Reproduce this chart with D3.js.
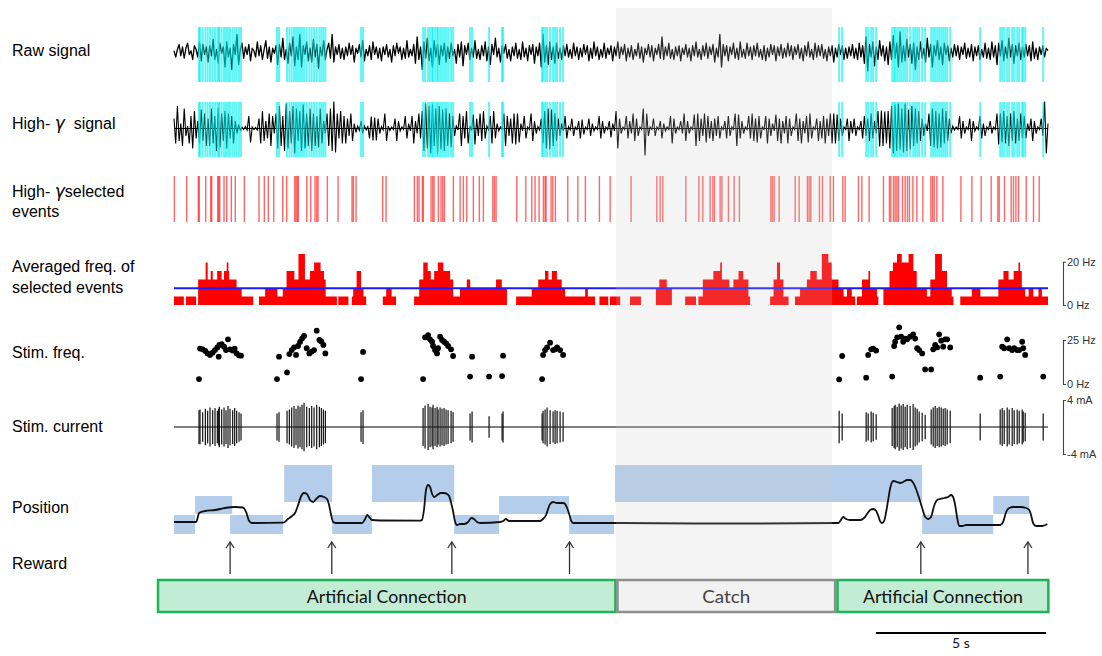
<!DOCTYPE html>
<html><head><meta charset="utf-8">
<script src="https://cdn.jsdelivr.net/npm/d3@7"></script>
<style>body{margin:0;background:#fff}svg{display:block}</style>
</head><body>
<svg id="chart" width="1102" height="656"></svg>
<script>
// ---- recording data (time in s) ----
const sampleStep = 0.05; // s between samples of the two voltage traces
const timeSpan = [0, 25.7];

// raw LFP trace (µV), one row per second
const rawSignal = [
5,-20,10,30,-15,20,-25,15,35,-10,5,-30,25,10,-20,40,-35,30,-10,20,
-40,25,-15,50,-30,10,-45,35,-5,20,-60,40,-20,15,-70,30,-10,70,-50,10,
35,-25,20,-10,30,-35,15,5,-20,40,-15,25,-30,10,45,-25,20,-40,15,-5,
25,-50,30,-20,55,-30,10,-45,35,-15,60,-55,20,-30,70,-60,25,-10,40,-35,
15,-40,50,-20,30,-65,20,-15,45,-30,10,35,-25,70,-40,20,-10,30,-25,15,
-30,20,-15,35,-10,25,-40,15,-5,30,-20,45,-35,10,-15,25,-30,40,-10,20,
-25,15,-35,20,-10,30,-20,10,-40,25,-15,35,-5,20,-30,15,-25,45,-20,10,
-15,30,-45,60,-30,20,-70,40,-25,55,-35,15,-60,45,-20,30,-50,25,-15,35,
-40,20,-25,35,-15,10,-45,30,-20,40,-55,25,-10,35,-30,15,-20,45,-25,10,
-30,25,-15,40,-35,20,-50,30,-10,55,-20,15,-40,25,-5,30,-25,10,-35,20,
-15,35,-25,10,-30,40,-20,15,-35,25,-10,30,-45,20,-15,35,-60,70,-40,25,
-50,40,-30,20,-45,35,-25,15,-30,25,-15,30,-20,10,-25,35,-15,20,-30,15,
-20,30,-10,25,-35,15,-25,40,-15,20,-30,10,-20,35,-25,15,-10,25,-35,20,
-15,40,-25,20,-10,30,-35,15,-20,25,-30,10,-15,35,-25,20,-40,15,-10,30,
-20,25,-35,15,-10,30,-25,60,-30,20,-15,35,-25,10,-30,20,-15,25,-35,15,
-10,30,-20,15,-35,25,-15,40,-20,10,-30,25,-15,35,-25,20,-10,30,-40,15,
-20,70,-60,30,-15,25,-35,20,-10,35,-25,15,-30,40,-20,10,-25,35,-15,20,
-30,25,-15,35,-20,10,-30,25,-35,15,-20,30,-10,25,-35,20,-15,30,-25,15,
-20,35,-15,25,-30,20,-10,30,-25,15,-35,25,-15,40,-20,10,-30,35,-20,25,
-15,30,-25,10,-35,20,-15,25,-40,15,-20,30,-10,25,-30,15,-25,20,-15,30,
-25,15,-30,35,-20,25,-45,60,-75,30,-20,40,-55,20,-30,45,-15,25,-35,20,
-50,40,-30,65,-25,35,-60,80,-40,25,-35,50,-20,30,-45,35,-70,20,-30,40,
-25,15,-40,55,-20,30,-60,25,-15,45,-30,20,-50,35,-10,25,-35,15,-20,30,
-15,25,-30,20,-10,35,-25,15,-20,30,-35,20,-15,25,-30,10,-20,35,-25,15,
-30,40,-20,25,-50,35,-15,45,-35,20,-25,55,-20,30,-45,25,-15,35,-30,20,
-20,30,-15,25,-35,40,-25,15,-30,20,-10,25,-20,15,5
];

// high-gamma band-passed trace (µV)
const highGamma = [
20,-30,45,-25,10,-35,40,-15,5,-30,25,-40,35,-20,15,-30,38,-25,30,-35,
20,-35,40,-30,25,-45,42,-38,30,-25,35,-40,30,-20,25,-30,15,-10,8,-4,
3,-2,4,-3,25,-28,3,-2,2,-3,20,-30,35,-25,15,-20,30,-35,25,-10,
30,-40,45,-35,25,-45,50,-40,35,-30,45,-50,40,-25,35,-45,48,-40,30,-35,
40,-45,30,-35,25,-38,40,-30,15,-10,30,-35,40,-45,54,-48,30,-20,35,-30,
25,-30,20,-15,30,-25,10,-8,5,-4,15,-10,5,-3,4,-20,24,-24,22,-24,
20,-10,4,-3,30,-25,5,-4,3,-2,20,-25,15,-5,3,-2,25,-20,10,-5,
25,-30,15,-10,30,-20,35,-45,50,-40,45,-50,48,-35,40,-50,45,-42,38,-45,
40,-35,30,-38,25,-15,5,-3,30,-35,25,-20,35,-30,5,-4,28,-32,20,-15,
30,-25,35,-20,5,-3,25,-30,35,-20,10,-5,3,-2,30,-35,25,-15,20,-30,
30,-32,30,-28,10,-5,25,-20,3,-2,30,-25,15,-10,4,-3,20,-30,35,-40,
40,-42,38,-35,30,-25,20,-15,10,-5,25,-20,4,-3,20,-15,3,-2,15,-20,
18,-12,3,-2,20,-15,10,-5,3,-2,25,-20,15,-10,3,-2,15,-18,10,-5,
35,-40,20,-10,3,-2,25,-20,15,-10,30,-25,20,-15,3,-2,40,-54,30,-15,
3,-2,20,-15,3,-2,15,-20,10,-5,3,-2,25,-30,20,-10,3,-2,15,-10,
30,-25,15,-10,3,-2,28,-35,30,-25,20,-15,30,-28,25,-20,15,-25,20,-15,
25,-20,3,-2,15,-20,25,-15,3,-2,30,-35,28,-20,15,-10,3,-2,25,-20,
30,-25,20,-28,25,-20,3,-2,25,-30,20,-15,10,-5,28,-25,20,-30,15,-10,
25,-30,20,-15,3,-2,30,-25,20,-30,15,-10,25,-28,30,-20,3,-2,20,-25,
15,-20,25,-30,20,-15,30,-30,30,-30,28,-25,20,-15,3,-2,20,-25,15,-10,
20,-15,3,-2,15,-20,25,-15,20,-25,30,-20,15,-10,35,-36,36,-35,34,-30,
35,-40,45,-50,48,-45,50,-42,40,-48,50,-45,38,-42,45,-35,40,-30,35,-25,
20,-15,10,-5,30,-35,40,-38,35,-40,30,-38,40,-30,35,-25,20,-10,5,-3,
3,-2,25,-20,15,-10,3,-2,20,-25,15,-5,3,-2,25,-20,10,-15,3,-2,
15,-10,3,-2,30,-32,30,-28,35,-30,25,-35,30,-25,35,-30,20,-25,30,-20,
25,-20,10,-5,20,-25,15,-10,3,-2,20,-15,54,-50,10
];

// stimulation pulses: [time s, instantaneous frequency Hz, current amplitude mA]
const stimPulses = [
[0.735,2.8,2.5],[0.765,20.1,2.6],[0.843,19.7,2.2],[0.922,18.8,2.7],[0.99,17.4,2.4],[1.059,16.5,2.9],[1.137,17.8,2.5],[1.206,19.3,2.8],[1.275,20.8,2.4],[1.314,15.5,2.7],[1.333,22.2,3.0],[1.402,22.7,2.6],[1.471,21.2,2.9],[1.529,19.3,2.5],[1.588,25.4,3.1],[1.647,19.7,2.7],[1.725,19.0,2.5],[1.784,20.1,2.8],[1.843,17.4,2.4],[1.912,16.3,2.2],[1.971,16.1,2.0],
[3.029,2.8,2.0],[3.088,15.5,2.2],[3.324,6.6,2.4],[3.392,17.0,2.6],[3.461,19.3,2.9],[3.529,20.8,3.1],[3.588,16.5,2.7],[3.647,21.6,3.2],[3.706,23.9,3.0],[3.765,25.8,3.3],[3.824,27.3,3.6],[3.902,20.3,3.0],[3.98,17.4,2.8],[4.049,18.4,3.1],[4.118,19.3,2.9],[4.196,30.3,3.3],[4.275,25.0,3.0],[4.333,24.2,2.8],[4.392,22.2,2.6],[4.451,17.4,2.4],
[5.5,2.8,2.2],[5.559,18.2,2.5],
[7.324,2.8,2.8],[7.382,26.5,3.2],[7.471,27.8,3.4],[7.529,25.4,3.0],[7.588,24.0,2.9],[7.618,21.6,3.3],[7.676,19.3,2.8],[7.735,17.4,3.0],[7.765,20.3,2.6],[7.824,26.9,2.9],[7.882,25.0,2.7],[7.941,24.0,2.8],[8.0,23.1,2.6],[8.059,21.6,2.5],[8.147,19.7,2.4],[8.206,15.9,2.2],
[8.706,4.2,2.0],[8.765,15.5,2.3],
[9.265,4.2,1.6],
[9.647,4.5,2.0],[9.676,16.1,2.3],
[10.824,2.8,2.0],[10.853,16.5,2.4],[10.912,19.3,2.6],[10.971,20.8,2.9],[11.059,23.5,2.5],[11.147,19.3,2.3],[11.206,19.7,2.5],[11.265,20.8,2.4],[11.353,19.3,2.3],[11.441,16.5,2.2],
[19.559,2.6,2.4],[19.647,15.9,2.0],
[20.353,3.6,2.2],[20.412,16.5,2.0],[20.5,19.7,2.3],[20.559,20.1,2.1],[20.647,19.0,1.9],
[21.118,4.2,2.8],[21.176,21.6,3.1],[21.206,24.0,3.3],[21.265,26.5,3.0],[21.324,32.2,3.5],[21.382,26.9,3.2],[21.441,24.0,3.4],[21.5,25.8,3.0],[21.559,25.4,3.3],[21.647,26.9,3.1],[21.735,28.2,3.4],[21.794,25.8,2.9],[21.853,20.3,2.7],[21.912,19.3,2.3],[22.0,17.4,2.1],
[22.088,8.3,1.8],[22.265,8.3,2.6],
[22.324,19.7,2.9],[22.382,22.2,3.1],[22.441,20.8,2.8],[22.5,28.2,3.0],[22.559,24.6,2.9],[22.618,21.2,2.7],[22.676,25.4,2.8],[22.735,25.4,2.6],[22.824,20.8,2.4],
[23.706,3.6,2.0],
[24.294,4.2,2.6],[24.353,21.2,2.8],[24.412,20.3,2.5],[24.5,25.4,2.9],[24.559,20.3,2.6],[24.647,19.3,2.8],[24.706,20.3,2.5],[24.794,19.3,2.6],[24.853,19.3,2.4],[24.941,24.0,2.6],[24.971,20.3,2.3],[25.029,16.5,2.1],
[25.559,4.2,2.0]
];

// detected high-gamma events (s)
const selectedEvents = [
0.01,0.374,0.715,0.744,0.932,1.079,1.109,1.285,1.315,1.344,1.471,1.55,1.685,1.803,2.068,2.5,2.656,2.774,2.932,
3.197,3.315,3.55,3.588,3.626,3.656,3.903,4.021,4.147,4.197,4.235,4.509,4.824,5.235,5.274,5.353,6.138,6.235,
7.068,7.156,7.206,7.303,7.332,7.559,7.609,7.647,7.774,7.853,7.903,7.95,8.215,8.412,8.509,8.609,8.803,8.979,9.097,
9.374,9.421,9.471,10.079,10.344,10.521,10.618,10.735,10.862,10.912,10.941,11.088,11.138,11.215,11.579,11.874,
12.097,12.509,12.824,13.441,14.197,14.294,14.374,15.05,15.432,15.55,15.765,15.844,15.891,16.059,16.109,16.303,
16.471,16.626,17.55,17.597,17.647,17.794,18.265,18.382,18.626,18.676,18.726,18.979,19.068,19.294,19.391,19.668,
19.735,20.126,20.226,20.441,20.862,21.038,21.079,21.156,21.206,21.256,21.303,21.421,21.5,21.568,21.626,21.726,
21.844,22.021,22.256,22.303,22.353,22.432,22.609,23.138,23.462,23.735,24.029,24.226,24.265,24.421,24.618,24.685,
24.756,24.832,25.059,25.274,25.441
];

// averaged event frequency: [step start s, rate Hz], each level holds until the next step
const eventRate = [
[0.00,3.9],[0.29,0],[0.35,3.9],[0.65,0],[0.71,11.8],[0.93,19.6],[0.99,11.8],[1.08,15.7],[1.14,11.8],[1.27,15.7],
[1.40,11.8],[1.47,15.7],[1.55,19.6],[1.60,15.7],[1.62,11.8],[1.84,7.8],[1.99,3.9],[2.33,0],[2.50,3.9],[2.68,7.8],
[3.04,3.9],[3.20,7.8],[3.31,15.7],[3.54,11.8],[3.66,23.6],[3.85,11.8],[4.00,15.7],[4.12,19.6],[4.31,15.7],[4.41,11.8],
[4.46,3.9],[4.79,0],[4.83,3.9],[5.13,0],[5.23,3.9],[5.27,7.8],[5.37,15.7],[5.50,7.8],[5.57,3.9],[5.65,0],
[6.14,3.9],[6.24,7.8],[6.40,3.9],[6.53,0],[7.06,3.9],[7.21,11.8],[7.33,19.6],[7.46,15.7],[7.55,11.8],[7.65,15.7],
[7.76,19.6],[7.92,15.7],[8.12,11.8],[8.21,3.9],[8.41,7.8],[8.61,11.8],[8.71,7.8],[9.47,11.8],[9.64,7.8],[9.79,0],
[10.06,3.9],[10.52,7.8],[10.71,11.8],[10.91,15.7],[11.01,11.8],[11.11,15.7],[11.26,11.8],[11.40,7.8],[11.50,3.9],[12.09,7.8],
[12.17,3.9],[12.38,0],[12.51,3.9],[12.77,0],[12.82,3.9],[13.12,0],[13.41,3.9],[13.73,0],[14.17,7.8],[14.27,11.8],
[14.49,7.8],[14.64,0],[15.03,3.9],[15.35,0],[15.42,3.9],[15.55,11.8],[15.86,15.7],[16.06,19.6],[16.11,11.8],[16.33,7.8],
[16.45,11.8],[16.60,15.7],[16.74,11.8],[16.89,3.9],[16.94,0],[17.53,3.9],[17.63,11.8],[17.73,19.6],[17.82,11.8],[17.92,3.9],
[18.07,0],[18.26,3.9],[18.41,7.8],[18.61,11.8],[18.71,15.7],[18.90,11.8],[19.05,23.6],[19.24,19.6],[19.34,11.8],[19.54,7.8],
[19.69,3.9],[19.79,7.8],[19.93,3.9],[20.03,0],[20.08,3.9],[20.23,11.8],[20.42,15.7],[20.47,7.8],[20.67,3.9],[20.71,0],
[20.86,7.8],[21.04,15.7],[21.14,19.6],[21.26,23.6],[21.40,19.6],[21.60,23.6],[21.74,15.7],[21.84,7.8],[22.14,3.9],[22.24,11.8],
[22.38,23.6],[22.58,15.7],[22.73,7.8],[22.87,3.9],[22.92,0],[23.12,3.9],[23.46,7.8],[23.71,3.9],[24.24,11.8],[24.39,15.7],
[24.54,11.8],[24.69,15.7],[24.83,19.6],[24.88,15.7],[24.93,7.8],[25.03,3.9],[25.13,7.8],[25.27,3.9],[25.42,7.8],[25.52,3.9],
[25.70,0]
];
const rateThreshold = 7.7;   // Hz

// cursor position (arbitrary units) : [time s, position]
const positionTrace = [
[0.00,12],[0.65,12],[0.74,21],[0.91,23],[1.21,24],[1.50,26],[1.79,27],[2.03,26.5],[2.12,22],[2.21,13],[2.29,11],
[3.21,11.3],[3.35,15],[3.47,18],[3.56,21],[3.65,29],[3.74,38],[3.82,41],[3.91,40],[4.00,34],[4.09,32],[4.18,35],
[4.29,38],[4.41,37],[4.50,35],[4.56,29],[4.62,19],[4.68,12],[4.76,11],[5.53,11],[5.62,15],[5.68,19],[5.74,17],
[5.82,14],[6.06,13.5],[7.24,13.3],[7.29,14],[7.35,24],[7.41,44],[7.47,49],[7.53,47],[7.59,40],[7.65,37],[7.74,39],
[7.85,41],[7.94,41],[8.03,40],[8.09,38],[8.15,31],[8.21,22],[8.26,13],[8.32,9],[8.41,10],[8.53,10],[8.65,12],
[8.74,16],[8.82,15],[8.91,12],[9.00,11],[9.59,12],[9.68,13],[9.76,15],[9.85,13],[9.94,13],[10.76,13],[10.85,15],
[10.94,19],[11.00,25],[11.06,30],[11.15,32],[11.26,31],[11.44,31],[11.50,30],[11.56,26],[11.62,20],[11.68,13],
[11.74,11],[12.94,11],[15.47,10.5],[17.24,10.5],[19.53,11],[19.59,13],[19.68,17],[19.76,15],[19.88,14],[20.18,14],
[20.29,16],[20.38,20],[20.47,24],[20.56,25],[20.65,23],[20.71,18],[20.76,13],[20.82,11],[20.88,13],[20.94,22],
[21.00,34],[21.06,46],[21.15,53],[21.26,52],[21.35,51],[21.44,52],[21.56,54],[21.65,54],[21.74,51],[21.82,45],
[21.91,36],[22.00,26],[22.09,17],[22.18,15],[22.26,17],[22.35,28],[22.44,34],[22.53,35],[22.65,36],[22.76,37],
[22.85,39],[22.91,37],[22.97,29],[23.03,16],[23.09,8],[23.18,8],[23.29,9],[24.29,9],[24.38,12],[24.47,22],
[24.56,26],[24.68,27],[24.88,27],[25.06,26],[25.15,24],[25.21,18],[25.26,11],[25.35,8],[25.53,8],[25.68,10]
];
const targetZones = { low: [0, 19], mid: [20, 38], high: [32, 69] };
const targets = [
[0.00,0.62,"low"],[0.62,1.71,"mid"],[1.65,3.21,"low"],[3.24,4.65,"high"],[4.65,5.82,"low"],[5.82,8.24,"high"],
[8.24,9.56,"low"],[9.56,11.62,"mid"],[11.62,12.94,"low"],[12.97,22.00,"high"],[22.00,24.09,"low"],[24.09,25.15,"mid"]
];
const rewardTimes = [1.65, 4.64, 8.17, 11.63, 21.96, 25.11];

// session blocks
const phaseNames = ["Artificial Connection", "Catch", "Artificial Connection"];
const phaseBounds = [[-0.47, 12.98], [13.04, 19.44], [19.51, 25.71]];
const catchWindow = [13.0, 19.35];

const rowLabels = [
  ["Raw signal"], ["High- |γ|  signal"], ["High- |γ|selected", "events"],
  ["Averaged freq. of", "selected events"], ["Stim. freq."], ["Stim. current"], ["Position"], ["Reward"]
];
const freqTicks = [0, 20], stimFreqTicks = [0, 25], currentTicks = [-4, 4];
const scaleBarSeconds = 5;

// ---- drawing ----
const svg = d3.select("#chart");
const x = d3.scaleLinear().domain(timeSpan).range([174, 1048]);
const tOf = i => i * sampleStep;

const yRaw = d3.scaleLinear().domain([-100, 100]).range([77, 27]);
const yHG = d3.scaleLinear().domain([-50, 50]).range([153.5, 103.5]);
const yRate = d3.scaleLinear().domain([0, 20]).range([305, 261.7]);
const yStimF = d3.scaleLinear().domain([0, 25]).range([384, 340]);
const yCur = d3.scaleLinear().domain([-4, 4]).range([454, 400]);
const yPos = d3.scaleLinear().domain([0, 69]).range([534, 465]);

// left labels
const labelY = [[56], [128.5], [196.7, 216.7], [271.7, 292.7], [358.3], [431.7], [512.7], [569.3]];
const lab = svg.append("g").attr("font-family", "Liberation Sans, Arial, sans-serif").attr("font-size", 16).attr("fill", "#000");
rowLabels.forEach((lines, k) => {
  lines.forEach((s, j) => {
    const t = lab.append("text").attr("x", 12).attr("y", labelY[k][j]).style("white-space", "pre");
    s.split("|").forEach((part, p) => {
      const ts = t.append("tspan").text(part);
      if (p === 1) ts.attr("font-style", "italic").attr("font-family", "DejaVu Sans, sans-serif").attr("font-size", 17);
    });
  });
});

// raw and high-gamma traces
const lineRaw = d3.line().x((d, i) => x(tOf(i))).y(d => yRaw(d));
const lineHG = d3.line().x((d, i) => x(tOf(i))).y(d => yHG(d));
svg.append("path").attr("d", lineRaw(rawSignal)).attr("fill", "none").attr("stroke", "#000").attr("stroke-width", 1.3).attr("stroke-linejoin", "round");
svg.append("path").attr("d", lineHG(highGamma)).attr("fill", "none").attr("stroke", "#000").attr("stroke-width", 1.1);
svg.append("line").attr("x1", x(0)).attr("x2", x(25.7)).attr("y1", yHG(0)).attr("y2", yHG(0)).attr("stroke", "#000").attr("stroke-width", 1);

// stimulation markers over both traces
[[27, 82], [102, 157]].forEach(([y1, y2]) => {
  svg.append("g").selectAll("line").data(stimPulses).join("line")
    .attr("x1", d => x(d[0])).attr("x2", d => x(d[0])).attr("y1", y1).attr("y2", y2)
    .attr("stroke", "#00f0f0").attr("stroke-width", 2).attr("stroke-opacity", 0.62);
});

// selected events raster
svg.append("g").selectAll("line").data(selectedEvents).join("line")
  .attr("x1", d => x(d)).attr("x2", d => x(d)).attr("y1", 176).attr("y2", 222)
  .attr("stroke", "#ff0000").attr("stroke-width", 1.4).attr("stroke-opacity", 0.6);

// averaged event frequency as a step area, with the detection threshold
svg.append("path").datum(eventRate)
  .attr("d", d3.area().curve(d3.curveStepAfter).x(d => x(d[0])).y0(yRate(0)).y1(d => yRate(d[1])))
  .attr("fill", "#ff0000");
svg.append("line").attr("x1", x(0)).attr("x2", x(25.7)).attr("y1", yRate(rateThreshold)).attr("y2", yRate(rateThreshold))
  .attr("stroke", "#1a1aff").attr("stroke-width", 2);

// stimulation frequency
svg.append("g").selectAll("circle").data(stimPulses).join("circle")
  .attr("cx", d => x(d[0])).attr("cy", d => yStimF(d[1])).attr("r", 2.9).attr("fill", "#000");

// stimulation current
svg.append("line").attr("x1", x(0)).attr("x2", x(25.7)).attr("y1", yCur(0)).attr("y2", yCur(0)).attr("stroke", "#000").attr("stroke-width", 1);
svg.append("g").selectAll("line").data(stimPulses).join("line")
  .attr("x1", d => x(d[0])).attr("x2", d => x(d[0])).attr("y1", d => yCur(d[2])).attr("y2", d => yCur(-d[2]))
  .attr("stroke", "#111").attr("stroke-width", 1.2);

// target zones and cursor position
svg.append("g").selectAll("rect").data(targets).join("rect")
  .attr("x", d => x(d[0])).attr("width", d => x(d[1]) - x(d[0]))
  .attr("y", d => yPos(targetZones[d[2]][1])).attr("height", d => yPos(targetZones[d[2]][0]) - yPos(targetZones[d[2]][1]))
  .attr("fill", "#b4cdea");
svg.append("path").datum(positionTrace)
  .attr("d", d3.line().curve(d3.curveMonotoneX).x(d => x(d[0])).y(d => yPos(d[1])))
  .attr("fill", "none").attr("stroke", "#111").attr("stroke-width", 1.8);

// reward arrows
const arrows = svg.append("g").attr("stroke", "#333").attr("stroke-width", 1.3).attr("fill", "none");
rewardTimes.forEach(t => {
  const cx = x(t);
  arrows.append("line").attr("x1", cx).attr("x2", cx).attr("y1", 574).attr("y2", 542);
  arrows.append("path").attr("d", `M${cx - 4},${548} L${cx},${542} L${cx + 4},${548}`);
});

// catch period shading
svg.append("rect").attr("x", x(catchWindow[0])).attr("width", x(catchWindow[1]) - x(catchWindow[0]))
  .attr("y", 8).attr("height", 572).attr("fill", "rgb(200,200,200)").attr("fill-opacity", 0.2);

// right-side scale brackets
function bracket(scale, ticks, unit) {
  const ax = d3.axisRight(scale).tickValues(ticks).tickFormat(d => `${d} ${unit}`)
    .tickSizeInner(0).tickSizeOuter(3).tickPadding(4);
  const g = svg.append("g").attr("transform", "translate(1063,0)").call(ax);
  g.select(".domain").attr("stroke", "#444").attr("stroke-width", 1.1);
  g.selectAll("text").attr("font-family", "Liberation Sans, Arial, sans-serif").attr("font-size", 11).attr("fill", "#333");
}
bracket(yRate, freqTicks, "Hz");
bracket(yStimF, stimFreqTicks, "Hz");
bracket(yCur, currentTicks, "mA");

// session blocks
const blocks = svg.append("g");
phaseBounds.forEach(([a, b], k) => {
  const isCatch = phaseNames[k] === "Catch";
  blocks.append("rect").attr("x", x(a)).attr("width", x(b) - x(a)).attr("y", 580).attr("height", 32)
    .attr("fill", isCatch ? "#f2f2f2" : "#c3ecd5").attr("stroke", isCatch ? "#8e8e8e" : "#1db457").attr("stroke-width", 2.5);
  blocks.append("text").attr("x", (x(a) + x(b)) / 2).attr("y", 602.5).attr("text-anchor", "middle")
    .attr("font-family", "Lato, sans-serif").attr("font-size", 17).attr("fill", isCatch ? "#444" : "#111")
    .attr("textLength", isCatch ? 48 : 160).attr("lengthAdjust", "spacingAndGlyphs")
    .text(phaseNames[k]);
});

// time scale bar
const sb0 = x(timeSpan[1]) - x(scaleBarSeconds) + x(0) - 2;
svg.append("line").attr("x1", sb0).attr("x2", sb0 + x(scaleBarSeconds) - x(0)).attr("y1", 633).attr("y2", 633)
  .attr("stroke", "#000").attr("stroke-width", 2);
svg.append("text").attr("x", sb0 + (x(scaleBarSeconds) - x(0)) / 2).attr("y", 648).attr("text-anchor", "middle")
  .attr("font-family", "Lato, sans-serif").attr("font-size", 14).attr("fill", "#111").text(`${scaleBarSeconds} s`);
</script>
</body></html>
